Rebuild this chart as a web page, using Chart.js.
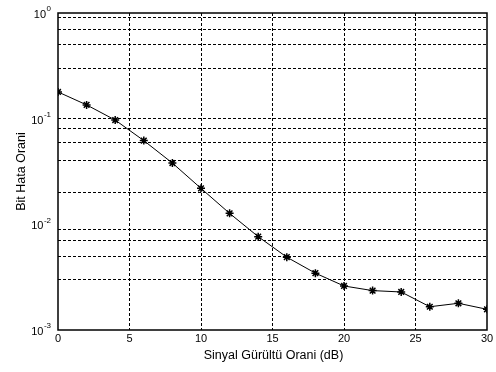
<!DOCTYPE html>
<html>
<head>
<meta charset="utf-8">
<script src="https://cdn.jsdelivr.net/npm/chart.js@4"></script>
<style>
  html, body { margin: 0; padding: 0; background: #fff; }
  #wrap { width: 496px; height: 372px; }
</style>
</head>
<body>
<div id="wrap"><canvas id="berChart" width="496" height="372"></canvas></div>
<script>
// SNR (dB) and bit error rate
var snrValues = [0, 2, 4, 6, 8, 10, 12, 14, 16, 18, 20, 22, 24, 26, 28, 30];
var berValues = [0.179, 0.135, 0.097, 0.062, 0.038, 0.0219, 0.0127, 0.00765, 0.00489, 0.00345, 0.00261, 0.00236, 0.00229, 0.00166, 0.00179, 0.00157];
var xTicks = [0, 5, 10, 15, 20, 25, 30];
var yExponents = [-3, -2, -1, 0];
var yMantissas = [1, 2, 3, 4, 5, 6, 7, 8, 9];
var xTitle = 'Sinyal Gürültü Orani (dB)';
var yTitle = 'Bit Hata Orani';

var fontFamily = "'Liberation Sans', Arial, sans-serif";

var points = [];
for (var i = 0; i < snrValues.length; i++) {
    points.push({ x: snrValues[i], y: berValues[i] });
}

// log ticks: every mantissa of every decade, labels drawn by hand below
var yTickValues = [];
for (var e = 0; e < yExponents.length; e++) {
    for (var m = 0; m < yMantissas.length; m++) {
        if (yExponents[e] == 0 && yMantissas[m] > 1) break;
        yTickValues.push(yMantissas[m] * Math.pow(10, yExponents[e]));
    }
}

var framePlugin = {
    id: 'framePlugin',
    afterDraw: function (chart) {
        var ctx = chart.ctx;
        var area = chart.chartArea;
        var yScale = chart.scales.y;
        ctx.save();
        ctx.strokeStyle = '#000';
        ctx.lineWidth = 1.5;
        ctx.strokeRect(area.left, area.top, area.right - area.left, area.bottom - area.top);

        // y labels as 10 with superscript exponent
        ctx.fillStyle = '#000';
        ctx.textBaseline = 'middle';
        for (var k = 0; k < yExponents.length; k++) {
            var py = yScale.getPixelForValue(Math.pow(10, yExponents[k]));
            var expText = String(yExponents[k]);
            ctx.font = '8px ' + fontFamily;
            var expW = ctx.measureText(expText).width;
            var right = area.left - 7;
            ctx.textAlign = 'left';
            ctx.fillText(expText, right - expW, py - 4);
            ctx.font = '11px ' + fontFamily;
            ctx.textAlign = 'right';
            ctx.fillText('10', right - expW - 0.5, py + 2);
        }

        // axis titles
        ctx.font = '12.5px ' + fontFamily;
        ctx.textAlign = 'center';
        ctx.fillText(xTitle, (area.left + area.right) / 2 + 1, 356);
        ctx.translate(22, (area.top + area.bottom) / 2);
        ctx.rotate(-Math.PI / 2);
        ctx.fillText(yTitle, 0, 0);
        ctx.restore();
    }
};

new Chart(document.getElementById('berChart'), {
    type: 'line',
    data: {
        datasets: [{
            data: points,
            borderColor: '#000',
            borderWidth: 1,
            pointStyle: 'star',
            pointRadius: 4,
            pointBorderColor: '#000',
            pointBorderWidth: 1.5,
            pointBackgroundColor: '#000',
            fill: false,
            tension: 0
        }]
    },
    options: {
        responsive: false,
        animation: false,
        layout: { padding: { top: 13, right: 9, left: 0, bottom: 0 } },
        plugins: {
            legend: { display: false },
            tooltip: { enabled: false }
        },
        scales: {
            x: {
                type: 'linear',
                min: 0,
                max: 30,
                afterBuildTicks: function (scale) {
                    scale.ticks = xTicks.map(function (v) { return { value: v }; });
                },
                afterFit: function (scale) { scale.height = 42; },
                grid: {
                    color: function (c) {
                        return (c.tick && (c.tick.value == 0 || c.tick.value == 30)) ? 'rgba(0,0,0,0)' : '#000';
                    },
                    lineWidth: 1,
                    drawTicks: false
                },
                border: { display: false, dash: [3, 2] },
                ticks: {
                    color: '#000',
                    font: { family: fontFamily, size: 11 },
                    padding: 2,
                    maxRotation: 0
                }
            },
            y: {
                type: 'logarithmic',
                min: 0.001,
                max: 1,
                afterBuildTicks: function (scale) {
                    scale.ticks = yTickValues.map(function (v) { return { value: v }; });
                },
                afterFit: function (scale) { scale.width = 58; },
                grid: {
                    color: function (c) {
                        return (c.tick && (c.tick.value <= 0.001 || c.tick.value >= 1)) ? 'rgba(0,0,0,0)' : '#000';
                    },
                    lineWidth: 1,
                    drawTicks: false
                },
                border: { display: false, dash: [3, 2] },
                ticks: {
                    callback: function () { return ''; }
                }
            }
        }
    },
    plugins: [framePlugin]
});
</script>
</body>
</html>
